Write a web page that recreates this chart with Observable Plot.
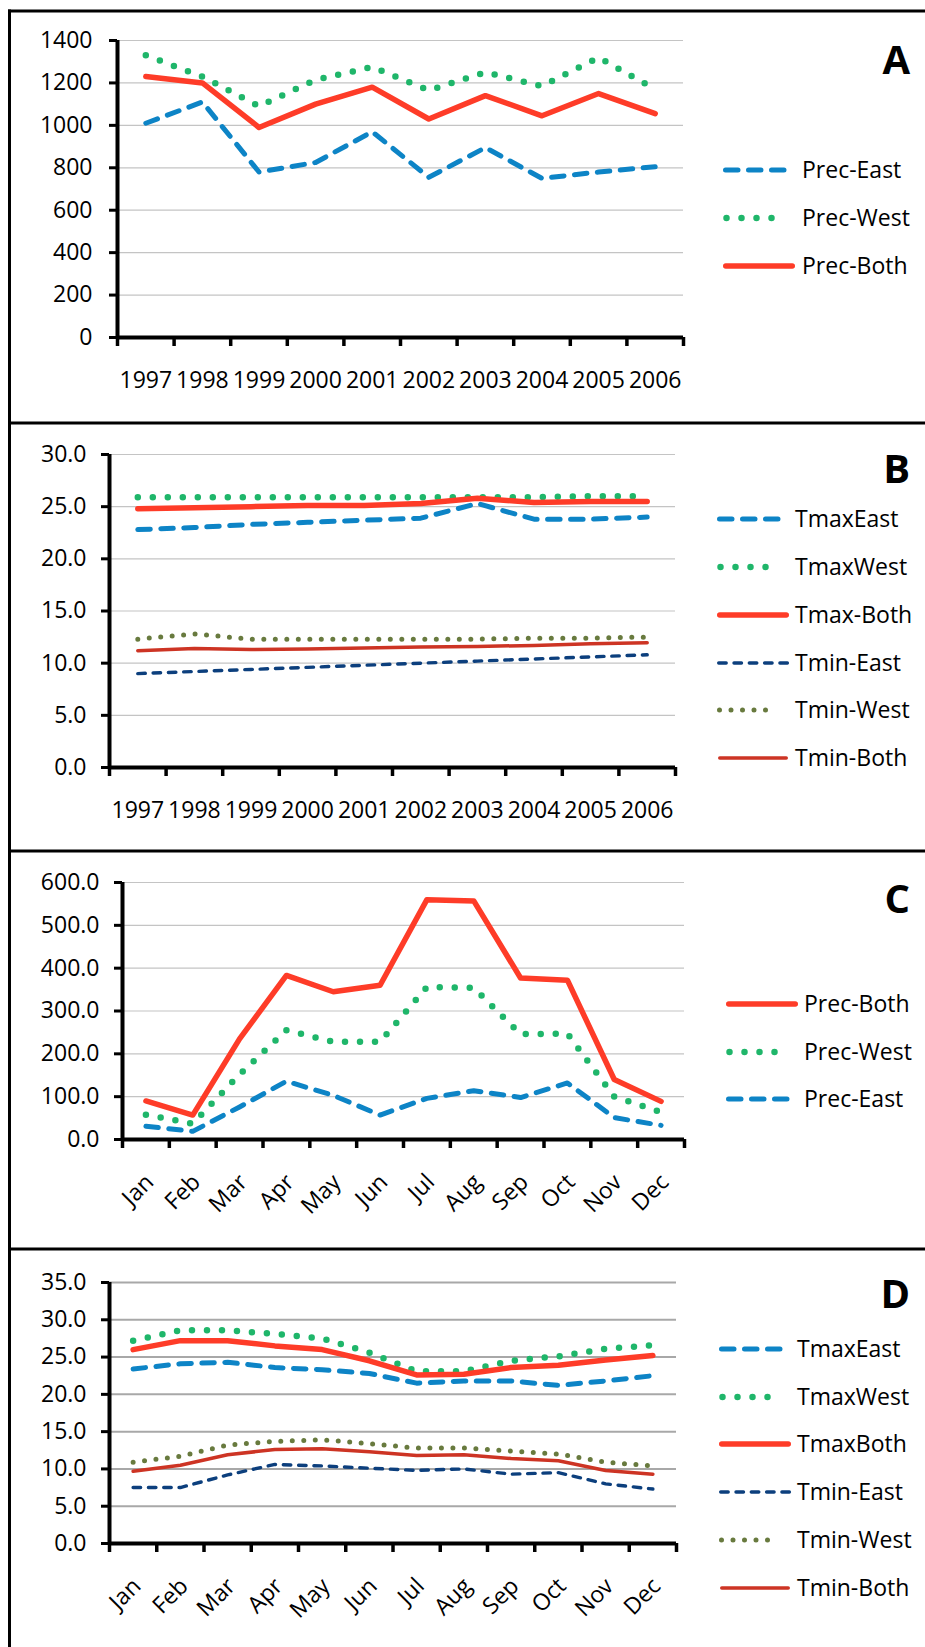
<!DOCTYPE html>
<html><head><meta charset="utf-8">
<script src="https://cdn.jsdelivr.net/npm/d3@7"></script>
<script src="https://cdn.jsdelivr.net/npm/@observablehq/plot@0.6"></script>
<style>
body{margin:0;background:#fff;}
#page{position:relative;width:925px;height:1647px;overflow:hidden;background:#fff;}
.pp{position:absolute;left:0;}
#overlay{position:absolute;left:0;top:0;pointer-events:none;}
</style></head><body><div id="page"></div>
<script>
// ---------- categories ----------
const years = ["1997","1998","1999","2000","2001","2002","2003","2004","2005","2006"];
const months = ["Jan","Feb","Mar","Apr","May","Jun","Jul","Aug","Sep","Oct","Nov","Dec"];

// ---------- Panel A: annual precipitation ----------
const precEastA = [1010, 1110, 780, 825, 970, 755, 895, 750, 780, 805];
const precWestA = [1330, 1230, 1090, 1215, 1275, 1165, 1250, 1185, 1320, 1170];
const precBothA = [1230, 1200, 990, 1100, 1180, 1030, 1140, 1045, 1150, 1055];
const ticksA = [0, 200, 400, 600, 800, 1000, 1200, 1400];

// ---------- Panel B: annual temperature ----------
const tmaxEastB = [22.8, 23.0, 23.3, 23.5, 23.7, 23.9, 25.3, 23.8, 23.8, 24.0];
const tmaxWestB = [25.9, 25.9, 25.9, 25.9, 25.9, 25.9, 25.9, 25.9, 26.0, 26.0];
const tmaxBothB = [24.8, 24.9, 25.0, 25.1, 25.1, 25.3, 25.8, 25.4, 25.5, 25.5];
const tminEastB = [9.0, 9.2, 9.4, 9.6, 9.8, 10.0, 10.2, 10.4, 10.6, 10.8];
const tminWestB = [12.3, 12.8, 12.3, 12.3, 12.3, 12.3, 12.3, 12.4, 12.4, 12.5];
const tminBothB = [11.2, 11.4, 11.3, 11.35, 11.45, 11.55, 11.6, 11.7, 11.85, 11.95];
const ticksB = [0, 5, 10, 15, 20, 25, 30];

// ---------- Panel C: monthly precipitation ----------
const precBothC = [90, 57, 235, 383, 345, 360, 560, 557, 377, 372, 140, 89];
const precWestC = [58, 37, 152, 255, 228, 228, 356, 354, 246, 247, 100, 64];
const precEastC = [31, 19, 76, 136, 103, 57, 96, 114, 98, 132, 51, 33];
const ticksC = [0, 100, 200, 300, 400, 500, 600];

// ---------- Panel D: monthly temperature ----------
const tmaxEastD = [23.4, 24.1, 24.3, 23.6, 23.3, 22.8, 21.5, 21.8, 21.8, 21.2, 21.8, 22.5];
const tmaxWestD = [27.2, 28.6, 28.6, 28.1, 27.5, 25.6, 23.1, 23.1, 24.5, 25.1, 26.1, 26.6];
const tmaxBothD = [26.0, 27.2, 27.2, 26.5, 26.0, 24.5, 22.6, 22.7, 23.6, 23.9, 24.6, 25.2];
const tminEastD = [7.5, 7.5, 9.2, 10.6, 10.4, 10.1, 9.8, 10.0, 9.3, 9.5, 8.0, 7.3];
const tminWestD = [10.9, 11.7, 13.2, 13.7, 13.9, 13.4, 12.8, 12.8, 12.4, 12.0, 10.9, 10.4];
const tminBothD = [9.7, 10.5, 11.9, 12.6, 12.7, 12.3, 11.8, 11.9, 11.4, 11.1, 9.8, 9.3];
const ticksD = [0, 5, 10, 15, 20, 25, 30, 35];

// ---------- styles ----------
const ST = {
  east:  {stroke:"#0d84c6", strokeWidth:5,   strokeDasharray:"12.5,10.5", kind:"dash3"},
  west:  {stroke:"#1fb66a", strokeWidth:6.5, strokeDasharray:"0,15",      kind:"dot5"},
  both:  {stroke:"#fe3c28", strokeWidth:5.5, strokeDasharray:null,        kind:"solid"},
  eastN: {stroke:"#0c3f7d", strokeWidth:3.4, strokeDasharray:"7.5,7.8",   kind:"dash5"},
  westN: {stroke:"#687a3e", strokeWidth:5,   strokeDasharray:"0,11.5",    kind:"dot6"},
  bothN: {stroke:"#cd3424", strokeWidth:3.5, strokeDasharray:null,        kind:"solid"}
};

const FONT = "Open Sans";
const page = document.getElementById("page");

function panel(cfg) {
  const n = cfg.cats.length;
  const bounds = d3.range(n + 1).map(i => i - 0.5);
  const marks = [
    Plot.ruleY(cfg.ticks.filter(t => t > 0), {stroke: cfg.grid, strokeWidth: cfg.gridW})
  ];
  for (const s of cfg.series) {
    const st = ST[s.style];
    marks.push(Plot.line(s.values, {
      x: (d, i) => i, y: d => d,
      stroke: st.stroke, strokeWidth: st.strokeWidth,
      strokeDasharray: st.strokeDasharray || undefined,
      strokeLinecap: "round", strokeLinejoin: "round"
    }));
  }
  marks.push(
    Plot.ruleX([-0.5], {stroke: "black", strokeWidth: 4}),
    Plot.ruleY([0], {stroke: "black", strokeWidth: 4}),
    Plot.axisY({ticks: cfg.ticks, tickSize: 8, tickPadding: cfg.yPad, strokeWidth: 3,
      tickFormat: d => d.toFixed(cfg.dec), fontSize: 23, label: null}),
    Plot.axisX({ticks: bounds, tickSize: 9, strokeWidth: 3.5, tickFormat: () => "", label: null}),
    cfg.rotate
      ? Plot.text(cfg.cats, {x: (d, i) => i, text: d => d, frameAnchor: "bottom",
          rotate: -45, textAnchor: "end", dx: 9, dy: 44, fontSize: 23})
      : Plot.text(cfg.cats, {x: (d, i) => i, text: d => d, frameAnchor: "bottom",
          dy: 50, fontSize: 23})
  );
  const svg = Plot.plot({
    width: 700, height: cfg.H,
    marginLeft: cfg.ml, marginRight: cfg.mr, marginTop: cfg.mt, marginBottom: cfg.mb,
    x: {type: "linear", domain: [-0.5, n - 0.5]},
    y: {type: "linear", domain: [0, cfg.ticks[cfg.ticks.length - 1]]},
    style: {fontFamily: FONT, fontSize: "23px", color: "black", background: "transparent", overflow: "visible"},
    marks
  });
  const wrap = document.createElement("div");
  wrap.className = "pp";
  wrap.style.top = cfg.T + "px";
  wrap.appendChild(svg);
  page.appendChild(wrap);
}

const panels = [
  {T: 0, H: 423, ml: 117, mr: 17, mt: 40, mb: 86, cats: years, ticks: ticksA, dec: 0, yPad: 17,
   grid: "#c4c4c4", gridW: 1.2, rotate: false,
   series: [{name:"Prec-East", values: precEastA, style:"east"},
            {name:"Prec-West", values: precWestA, style:"west"},
            {name:"Prec-Both", values: precBothA, style:"both"}],
   letter: "A", letterY: 74, legX: 723, legText: 802, legRows: [170, 218, 266]},
  {T: 423, H: 428, ml: 109, mr: 25, mt: 31, mb: 84, cats: years, ticks: ticksB, dec: 1, yPad: 15,
   grid: "#c4c4c4", gridW: 1.2, rotate: false,
   series: [{name:"TmaxEast", values: tmaxEastB, style:"east"},
            {name:"TmaxWest", values: tmaxWestB, style:"west"},
            {name:"Tmax-Both", values: tmaxBothB, style:"both"},
            {name:"Tmin-East", values: tminEastB, style:"eastN"},
            {name:"Tmin-West", values: tminWestB, style:"westN"},
            {name:"Tmin-Both", values: tminBothB, style:"bothN"}],
   letter: "B", letterY: 483, legX: 717, legText: 795, legRows: [519, 567, 615, 663, 710, 758]},
  {T: 851, H: 398, ml: 122, mr: 16, mt: 31, mb: 110, cats: months, ticks: ticksC, dec: 1, yPad: 15,
   grid: "#c4c4c4", gridW: 1.2, rotate: true,
   series: [{name:"Prec-Both", values: precBothC, style:"both"},
            {name:"Prec-West", values: precWestC, style:"west"},
            {name:"Prec-East", values: precEastC, style:"east"}],
   letter: "C", letterY: 913, legX: 726, legText: 804, legRows: [1004, 1052, 1099]},
  {T: 1249, H: 398, ml: 109, mr: 24, mt: 33, mb: 104, cats: months, ticks: ticksD, dec: 1, yPad: 15,
   grid: "#a8a8a8", gridW: 2, rotate: true,
   series: [{name:"TmaxEast", values: tmaxEastD, style:"east"},
            {name:"TmaxWest", values: tmaxWestD, style:"west"},
            {name:"TmaxBoth", values: tmaxBothD, style:"both"},
            {name:"Tmin-East", values: tminEastD, style:"eastN"},
            {name:"Tmin-West", values: tminWestD, style:"westN"},
            {name:"Tmin-Both", values: tminBothD, style:"bothN"}],
   letter: "D", letterY: 1308, legX: 719, legText: 797, legRows: [1349, 1397, 1444, 1492, 1540, 1588]}
];

panels.forEach(panel);

// ---------- overlay: frame, panel letters, legends ----------
const ov = d3.select(page).append("svg").attr("id", "overlay")
  .attr("width", 925).attr("height", 1647);
for (const y of [11, 423, 851, 1249]) {
  ov.append("line").attr("x1", 8).attr("x2", 925).attr("y1", y).attr("y2", y)
    .attr("stroke", "black").attr("stroke-width", 3);
}
ov.append("line").attr("x1", 9.5).attr("x2", 9.5).attr("y1", 9.5).attr("y2", 1647)
  .attr("stroke", "black").attr("stroke-width", 3);

const LEN = {dash3: [2.5, 61], dot5: [3.5, 63.5], solid: [2.75, 69.25], dash5: [1.7, 70.4], dot6: [2.5, 60]};
for (const p of panels) {
  ov.append("text").attr("x", 910).attr("y", p.letterY).attr("text-anchor", "end")
    .attr("font-family", FONT).attr("font-weight", "bold").attr("font-size", 40).text(p.letter);
  p.series.forEach((s, k) => {
    const st = ST[s.style];
    const y = p.legRows[k];
    const [a, b] = LEN[st.kind];
    ov.append("line").attr("x1", p.legX + a).attr("x2", p.legX + b).attr("y1", y).attr("y2", y)
      .attr("stroke", st.stroke).attr("stroke-width", st.strokeWidth)
      .attr("stroke-dasharray", st.strokeDasharray)
      .attr("stroke-linecap", "round");
    ov.append("text").attr("x", p.legText).attr("y", y + 8.2)
      .attr("font-family", FONT).attr("font-size", 23).attr("fill", "black").text(s.name);
  });
}
</script>
</body></html>
